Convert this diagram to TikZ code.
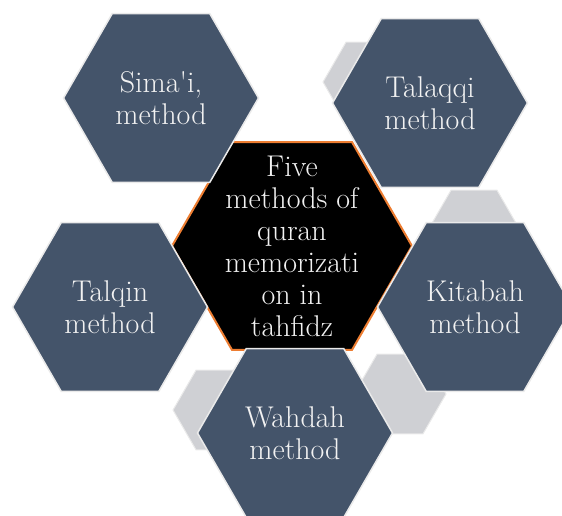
\documentclass[tikz,border=0pt]{standalone}
\usepackage{fontspec}
\usepackage{tikz}
\usetikzlibrary{shapes.geometric}

\definecolor{slate}{HTML}{44546A}
\definecolor{ashgray}{RGB}{207,208,212}
\definecolor{rim}{RGB}{234,234,234}
\definecolor{ember}{HTML}{ED7D31}

\begin{document}
\begin{tikzpicture}[x=1pt, y=-1pt,
  hexcell/.style={regular polygon, regular polygon sides=6, minimum size=195pt,
    inner sep=0pt, fill=slate, draw=rim, line width=1.5pt},
  hexlink/.style={regular polygon, regular polygon sides=6, minimum size=92pt,
    inner sep=0pt, fill=ashgray, draw=rim, line width=1pt},
  hexcore/.style={regular polygon, regular polygon sides=6, minimum size=240pt,
    inner sep=0pt, fill=black, draw=ember, line width=2pt},
  celltext/.style={text=white!95!black, align=center, inner sep=0pt,
    font=\fontsize{30}{32}\selectfont}
]
  \clip (0,0) rectangle (562,515);

  % grey hexagons in the back
  \node[hexlink] (g1) at (369,82) {};
  \node[hexlink] (g2) at (474,230) {};
  \node[hexlink] (g3) at (219,410) {};
  \node[hexlink] (g4) at (400,394) {};

  \node[hexcore] (core) at (292,246) {};

  \node[hexcell] (simai) at (161,98) {};
  \node[hexcell] (talaqqi) at (430,103) {};
  \node[hexcell] (talqin) at (110,307) {};
  \node[hexcell] (kitabah) at (475,307) {};
  \node[hexcell] (wahdah) at (295,433) {};

  \node[celltext] (coretext) at (core) {Five\\methods of\\quran\\memorizati\\on in\\tahfidz};
  \node[celltext] (simaitext) at (simai) {Sima\textquotesingle i,\\method};
  \node[celltext] (talaqqitext) at (talaqqi) {Talaqqi\\method};
  \node[celltext] (talqintext) at (talqin) {Talqin\\method};
  \node[celltext] (kitabahtext) at (kitabah) {Kitabah\\method};
  \node[celltext] (wahdahtext) at (wahdah) {Wahdah\\method};

\end{tikzpicture}
\end{document}
